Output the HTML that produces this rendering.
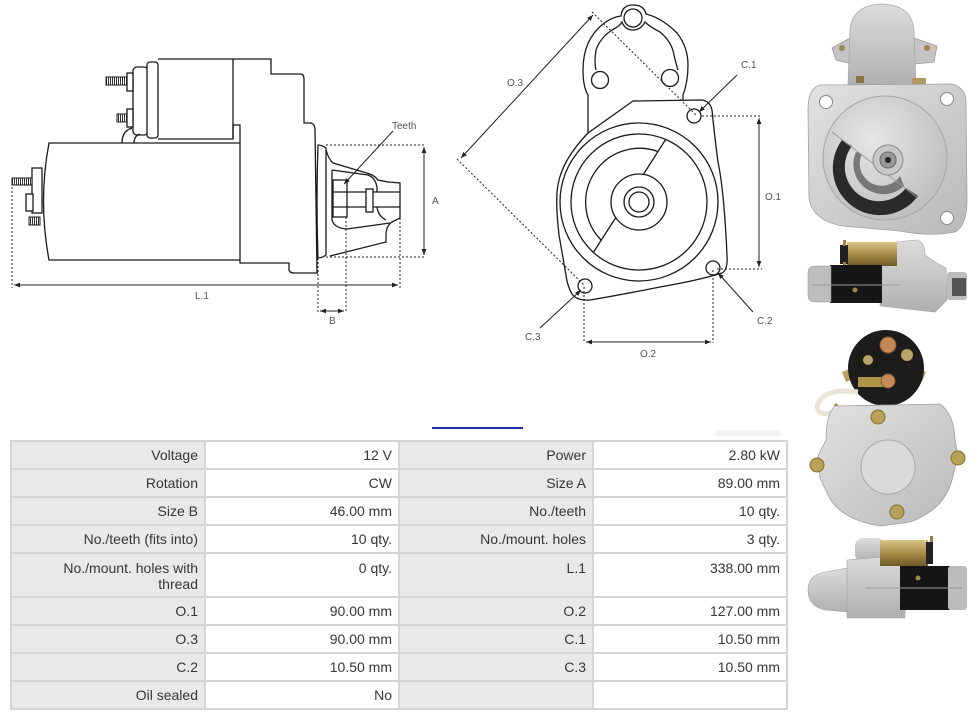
<!DOCTYPE html>
<html><head><meta charset="utf-8">
<style>
html,body{margin:0;padding:0;background:#fff;}
body{width:976px;height:720px;position:relative;overflow:hidden;font-family:"Liberation Sans",Arial,sans-serif;}
.tb{position:absolute;left:10px;top:440px;width:778px;height:270px;background:#d5d5d5;}
.c{position:absolute;box-sizing:border-box;font-size:14px;color:#363636;text-align:right;padding-right:6px;line-height:26px;white-space:nowrap;}
.l{background:#e9e9e9;}
.v{background:#fff;}
.t{line-height:16px;padding-top:6px;}
</style></head><body>

<svg width="976" height="720" style="position:absolute;left:0;top:0" xmlns="http://www.w3.org/2000/svg">
<defs>
<marker id="ah" viewBox="0 0 10 10" refX="10" refY="5" markerWidth="6" markerHeight="6" orient="auto-start-reverse"><path d="M0,1 L10,5 L0,9 z" fill="#222"/></marker>
<pattern id="thr" width="2" height="10" patternUnits="userSpaceOnUse"><rect width="2" height="10" fill="#fff"/><rect width="1" height="10" fill="#333"/></pattern>
<linearGradient id="alu" x1="0" y1="0" x2="1" y2="1"><stop offset="0" stop-color="#e2e2e2"/><stop offset="1" stop-color="#b9b9b9"/></linearGradient>
<linearGradient id="alu2" x1="0" y1="0" x2="0" y2="1"><stop offset="0" stop-color="#dcdcdc"/><stop offset="1" stop-color="#b0b0b0"/></linearGradient>
<linearGradient id="brass" x1="0" y1="0" x2="0" y2="1"><stop offset="0" stop-color="#d8c488"/><stop offset="0.5" stop-color="#a88c48"/><stop offset="1" stop-color="#6e5a28"/></linearGradient>
<radialGradient id="disc" cx="0.4" cy="0.35" r="0.7"><stop offset="0" stop-color="#e6e6e6"/><stop offset="1" stop-color="#bdbdbd"/></radialGradient>
</defs>

<!-- LEFT DRAWING -->
<g fill="none" stroke="#1a1a1a" stroke-width="1.3">
  <rect x="133" y="67" width="15" height="68" rx="4" fill="#fff"/>
  <rect x="147" y="62" width="11" height="76" rx="3" fill="#fff"/>
  <path d="M158,59 L233,59 L233,139 L158,139"/>
  <path d="M233,59 L271,59 L271,74 L300,74 Q304,74 304,79 L304,123 L311,123 Q315,124 315,130 L317,273"/>
  <path d="M233,139 L233,125 L240,125 L240,263 L289,263 L289,270 Q290,273 294,273 L318,273"/>
  <path d="M240,143 L49,143 Q38,201 49,260 L240,260"/>
  <path d="M122,143 Q122,131 132,128 M134,143 Q134,136 140,134"/>
  <rect x="106" y="77" width="21" height="8" fill="url(#thr)" stroke-width="1"/>
  <rect x="127" y="73" width="6" height="18" fill="#fff"/>
  <rect x="117" y="114" width="10" height="8" fill="url(#thr)" stroke-width="1"/>
  <rect x="127" y="109" width="6" height="18" fill="#fff"/>
  <rect x="32" y="168" width="10" height="45" fill="#fff"/>
  <rect x="12" y="178" width="20" height="7" fill="url(#thr)" stroke-width="1"/>
  <rect x="26" y="194" width="7" height="17" fill="#fff"/>
  <rect x="29" y="217" width="11" height="8" fill="url(#thr)" stroke-width="1"/>
  <!-- flange & nose -->
  <path d="M318,145 Q322,145 326,148 L326,255 Q322,258 318,258 Q316,200 318,145 Z" fill="#fff"/>
  <path d="M326,150 Q329,160 333,163 L370,174 Q375,176 378,180 L388,182 L400,183 L400,218 L392,222 Q386,226 386,235 L386,242 L330,256"/>
  <path d="M332,170 L368,175 Q376,178 377,188 L377,192 M377,207 Q378,216 386,220 M332,170 L332,220 Q334,228 347,229 L390,223"/>
  <rect x="333" y="180" width="14" height="37" fill="#fff"/>
  <path d="M333,192 L347,192 M333,207 L347,207 M347,192 L400,192 M347,207 L400,207"/>
  <rect x="366" y="189" width="7" height="23" fill="#fff"/>
</g>
<g fill="none" stroke="#222" stroke-width="1">
  <path d="M393,131 L344,184" marker-end="url(#ah)"/>
  <path d="M326,145 L425,145 M326,257 L425,257" stroke-dasharray="2 2"/>
  <path d="M424,147 L424,255" marker-start="url(#ah)" marker-end="url(#ah)"/>
  <path d="M12,183 L12,288 M400,218 L400,288" stroke-dasharray="2 2"/>
  <path d="M14,285 L398,285" marker-start="url(#ah)" marker-end="url(#ah)"/>
  <path d="M318,258 L318,313 M346,217 L346,313" stroke-dasharray="2 2"/>
  <path d="M320,311 L344,311" marker-start="url(#ah)" marker-end="url(#ah)"/>
</g>
<g font-family="Liberation Sans, Arial, sans-serif" font-size="10" fill="#555">
  <text x="392" y="129">Teeth</text>
  <text x="432" y="204">A</text>
  <text x="195" y="299">L.1</text>
  <text x="329" y="324">B</text>
</g>

<!-- MIDDLE DRAWING -->
<g fill="none" stroke="#1a1a1a" stroke-width="1.3">
  <path d="M588,133 L588,95 Q583,87 583,70 Q583,40 603,24 Q612,17 621,16 Q622,5 633,5 Q644,5 646,14 Q662,18 677,33 Q688,47 688,65 Q688,82 683,95 L683,100"/>
  <path d="M596,70 Q594,62 596,50 Q600,38 612,30 Q620,26 622,22 Q625,30 633,30 Q641,30 645,22 Q650,27 660,32 Q672,42 674,55 Q676,64 678,70"/>
  <circle cx="633" cy="18" r="9"/>
  <circle cx="600" cy="80" r="8.5" fill="#fff"/>
  <circle cx="670" cy="78" r="8.5" fill="#fff"/>
  <path d="M588,133 L633,101 L702,100 Q710,101 712,110 Q715,140 718,162 Q724,190 727,255 Q728,270 722,273 Q700,280 660,287 Q620,295 590,300 Q577,301 572,294 Q567,285 566,275 L559,235 Q555,200 558,185 Q562,160 588,133 Z" fill="#fff"/>
  <circle cx="639" cy="202" r="79"/>
  <circle cx="639" cy="202" r="68"/>
  <path d="M658,151.5 A54,54 0 0 0 601,240"/>
  <path d="M666,139 L643.4,174.4 M615.8,217.5 L593,253"/>
  <circle cx="639" cy="202" r="28"/>
  <circle cx="639" cy="202" r="15"/>
  <circle cx="639" cy="202" r="10"/>
  <circle cx="694" cy="116" r="7" fill="#fff"/>
  <circle cx="713" cy="268" r="7" fill="#fff"/>
  <circle cx="585" cy="286" r="7" fill="#fff"/>
</g>
<g fill="none" stroke="#222" stroke-width="1">
  <path d="M461,158 L593,15" marker-start="url(#ah)" marker-end="url(#ah)"/>
  <path d="M592,12 L697,116 M457,159 L584,285" stroke-dasharray="2 2"/>
  <path d="M737,75 L699,112" marker-end="url(#ah)"/>
  <path d="M702,116 L762,116 M717,269 L762,269" stroke-dasharray="2 2"/>
  <path d="M759,118 L759,267" marker-start="url(#ah)" marker-end="url(#ah)"/>
  <path d="M753,312 L718,273" marker-end="url(#ah)"/>
  <path d="M584,287 L584,343 M713,270 L713,343" stroke-dasharray="2 2"/>
  <path d="M586,342 L711,342" marker-start="url(#ah)" marker-end="url(#ah)"/>
  <path d="M540,328 L581,290" marker-end="url(#ah)"/>
</g>
<g font-family="Liberation Sans, Arial, sans-serif" font-size="10" fill="#555">
  <text x="507" y="86">O.3</text>
  <text x="741" y="68">C.1</text>
  <text x="765" y="200">O.1</text>
  <text x="757" y="324">C.2</text>
  <text x="640" y="357">O.2</text>
  <text x="525" y="340">C.3</text>
</g>

<!-- PHOTO 1 -->
<g>
  <path d="M832,48 L850,38 L852,64 L836,60 Z" fill="#c4c4c4" stroke="#9a9a9a" stroke-width="0.8"/>
  <path d="M914,38 L937,46 L934,62 L914,64 Z" fill="#c4c4c4" stroke="#9a9a9a" stroke-width="0.8"/>
  <circle cx="842" cy="48" r="3" fill="#9b8650"/>
  <circle cx="927" cy="48" r="3" fill="#9b8650"/>
  <path d="M848,86 L850,30 Q852,5 882,4 Q912,5 914,30 L916,86 Z" fill="url(#alu2)" stroke="#a8a8a8" stroke-width="0.8"/>
  <rect x="856" y="76" width="8" height="7" fill="#8a7640"/>
  <rect x="912" y="78" width="14" height="6" fill="#b09a60"/>
  <path d="M820,85 L952,84 Q966,88 966,102 L967,200 Q967,226 955,232 Q930,237 900,231 L842,226 Q812,220 809,198 L808,110 Q808,88 820,85 Z" fill="url(#alu)" stroke="#a0a0a0" stroke-width="0.8"/>
  <circle cx="826" cy="102" r="6.5" fill="#fff" stroke="#888"/>
  <circle cx="947" cy="99" r="6.5" fill="#fff" stroke="#888"/>
  <circle cx="947" cy="218" r="6.5" fill="#fff" stroke="#888"/>
  <circle cx="885" cy="158" r="62" fill="url(#disc)" stroke="#a5a5a5"/>
  <path d="M842,140 A44,44 0 0 0 918,196 L906,188 A32,32 0 0 1 852,146 Z" fill="#2a2a2a"/>
  <path d="M856,152 A30,30 0 0 0 904,186 L900,176 A22,22 0 0 1 862,154 Z" fill="#777"/>
  <path d="M832,132 L918,198" stroke="#9a9a9a" stroke-width="1"/>
  <circle cx="888" cy="160" r="15" fill="#c8c8c8" stroke="#8a8a8a"/>
  <circle cx="888" cy="160" r="8" fill="#9a9a9a" stroke="#666"/>
  <circle cx="888" cy="160" r="3" fill="#222"/>
</g>

<!-- PHOTO 2 -->
<g>
  <path d="M880,262 L895,262 L897,242 L915,240 Q925,240 925,255 L935,262 L946,268 L947,300 L935,312 L880,306 Z" fill="url(#alu2)" stroke="#a0a0a0" stroke-width="0.6"/>
  <rect x="947" y="272" width="20" height="28" rx="3" fill="#bcbcbc"/>
  <rect x="952" y="278" width="14" height="18" fill="#555"/>
  <rect x="847" y="242" width="50" height="24" fill="url(#brass)"/>
  <rect x="840" y="245" width="8" height="19" fill="#222"/>
  <rect x="843" y="240" width="3" height="6" fill="#a08040"/>
  <rect x="843" y="262" width="3" height="6" fill="#a08040"/>
  <rect x="830" y="265" width="52" height="38" fill="#161616"/>
  <path d="M808,272 Q808,266 815,266 L831,266 L831,302 L815,302 Q808,302 808,296 Z" fill="#bdbdbd" stroke="#999" stroke-width="0.5"/>
  <line x1="812" y1="285" x2="900" y2="285" stroke="#999" stroke-width="1"/>
  <circle cx="855" cy="290" r="2.5" fill="#a08a40"/>
</g>

<!-- PHOTO 3 -->
<g>
  <path d="M852,368 L842,372 L846,382 L856,378 Z" fill="#b8a060"/>
  <path d="M918,368 L926,372 L922,382 L914,378 Z" fill="#b8a060"/>
  <circle cx="886" cy="368" r="38" fill="#1c1c1c"/>
  <circle cx="888" cy="345" r="8" fill="#c58a5a" stroke="#8a5a30"/>
  <circle cx="907" cy="355" r="6" fill="#b8a468"/>
  <circle cx="868" cy="360" r="5" fill="#b8a468"/>
  <rect x="858" y="377" width="34" height="10" fill="#b09448"/>
  <circle cx="888" cy="381" r="7" fill="#c58a5a" stroke="#8a5a30"/>
  <path d="M858,392 Q830,388 820,400 Q812,412 826,414 L845,408" fill="none" stroke="#e8e4d8" stroke-width="5"/>
  <path d="M835,404 L842,412 L852,408" fill="none" stroke="#b08840" stroke-width="3"/>
  <path d="M835,406 L940,404 Q954,414 955,440 L958,455 L952,480 Q944,510 910,522 L880,526 Q842,520 829,497 L820,478 L818,456 L826,440 Q826,414 835,406 Z" fill="url(#alu)" stroke="#a0a0a0" stroke-width="0.8"/>
  <circle cx="888" cy="467" r="27" fill="#dadada" stroke="#a9a9a9"/>
  <circle cx="878" cy="417" r="7" fill="#b9a158" stroke="#80702c"/>
  <circle cx="817" cy="465" r="7" fill="#b9a158" stroke="#80702c"/>
  <circle cx="958" cy="458" r="7" fill="#b9a158" stroke="#80702c"/>
  <circle cx="897" cy="512" r="7" fill="#b9a158" stroke="#80702c"/>
</g>

<!-- PHOTO 4 -->
<g>
  <rect x="855" y="538" width="30" height="24" rx="8" fill="url(#alu2)"/>
  <path d="M808,590 Q808,575 825,572 L848,568 L848,612 L825,610 Q808,606 808,590 Z" fill="url(#alu2)" stroke="#a0a0a0" stroke-width="0.6"/>
  <path d="M847,560 L905,555 L905,618 L847,618 Z" fill="url(#alu2)" stroke="#a0a0a0" stroke-width="0.6"/>
  <rect x="880" y="540" width="48" height="26" fill="url(#brass)"/>
  <rect x="926" y="542" width="7" height="22" fill="#222"/>
  <rect x="930" y="536" width="3" height="6" fill="#a08040"/>
  <rect x="900" y="566" width="50" height="44" fill="#151515"/>
  <rect x="948" y="566" width="19" height="44" rx="3" fill="#bcbcbc"/>
  <line x1="865" y1="588" x2="962" y2="588" stroke="#999" stroke-width="1"/>
  <circle cx="918" cy="578" r="2.5" fill="#a08a40"/>
</g>

<!-- faint elements -->
<rect x="432" y="427" width="91" height="2" fill="#1f2fa8"/>
<rect x="716" y="430" width="64" height="6" fill="#f2f2f2"/>
</svg>

<div class="tb">
  <div class="c l" style="left:2px;top:2px;width:192px;height:26px;">Voltage</div>
  <div class="c v" style="left:196px;top:2px;width:192px;height:26px;">12 V</div>
  <div class="c l" style="left:390px;top:2px;width:192px;height:26px;">Power</div>
  <div class="c v" style="left:584px;top:2px;width:192px;height:26px;">2.80 kW</div>

  <div class="c l" style="left:2px;top:30px;width:192px;height:26px;">Rotation</div>
  <div class="c v" style="left:196px;top:30px;width:192px;height:26px;">CW</div>
  <div class="c l" style="left:390px;top:30px;width:192px;height:26px;">Size A</div>
  <div class="c v" style="left:584px;top:30px;width:192px;height:26px;">89.00 mm</div>

  <div class="c l" style="left:2px;top:58px;width:192px;height:26px;">Size B</div>
  <div class="c v" style="left:196px;top:58px;width:192px;height:26px;">46.00 mm</div>
  <div class="c l" style="left:390px;top:58px;width:192px;height:26px;">No./teeth</div>
  <div class="c v" style="left:584px;top:58px;width:192px;height:26px;">10 qty.</div>

  <div class="c l" style="left:2px;top:86px;width:192px;height:26px;">No./teeth (fits into)</div>
  <div class="c v" style="left:196px;top:86px;width:192px;height:26px;">10 qty.</div>
  <div class="c l" style="left:390px;top:86px;width:192px;height:26px;">No./mount. holes</div>
  <div class="c v" style="left:584px;top:86px;width:192px;height:26px;">3 qty.</div>

  <div class="c l t" style="left:2px;top:114px;width:192px;height:42px;">No./mount. holes with<br>thread</div>
  <div class="c v t" style="left:196px;top:114px;width:192px;height:42px;">0 qty.</div>
  <div class="c l t" style="left:390px;top:114px;width:192px;height:42px;">L.1</div>
  <div class="c v t" style="left:584px;top:114px;width:192px;height:42px;">338.00 mm</div>

  <div class="c l" style="left:2px;top:158px;width:192px;height:26px;">O.1</div>
  <div class="c v" style="left:196px;top:158px;width:192px;height:26px;">90.00 mm</div>
  <div class="c l" style="left:390px;top:158px;width:192px;height:26px;">O.2</div>
  <div class="c v" style="left:584px;top:158px;width:192px;height:26px;">127.00 mm</div>

  <div class="c l" style="left:2px;top:186px;width:192px;height:26px;">O.3</div>
  <div class="c v" style="left:196px;top:186px;width:192px;height:26px;">90.00 mm</div>
  <div class="c l" style="left:390px;top:186px;width:192px;height:26px;">C.1</div>
  <div class="c v" style="left:584px;top:186px;width:192px;height:26px;">10.50 mm</div>

  <div class="c l" style="left:2px;top:214px;width:192px;height:26px;">C.2</div>
  <div class="c v" style="left:196px;top:214px;width:192px;height:26px;">10.50 mm</div>
  <div class="c l" style="left:390px;top:214px;width:192px;height:26px;">C.3</div>
  <div class="c v" style="left:584px;top:214px;width:192px;height:26px;">10.50 mm</div>

  <div class="c l" style="left:2px;top:242px;width:192px;height:26px;">Oil sealed</div>
  <div class="c v" style="left:196px;top:242px;width:192px;height:26px;">No</div>
  <div class="c l" style="left:390px;top:242px;width:192px;height:26px;"></div>
  <div class="c v" style="left:584px;top:242px;width:192px;height:26px;"></div>
</div>

</body></html>
